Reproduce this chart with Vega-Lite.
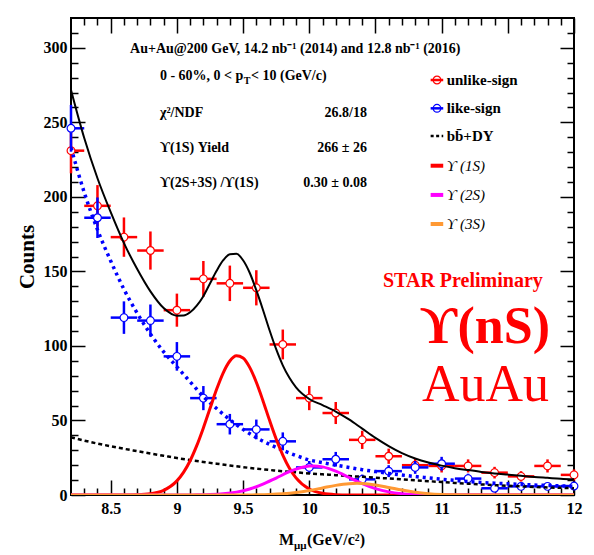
{
  "$schema": "https://vega.github.io/schema/vega-lite/v6.json",
  "width": 503,
  "height": 477,
  "autosize": {"type": "none"},
  "padding": {"left": 71, "top": 18, "right": 20, "bottom": 60},
  "background": "white",
  "config": {
    "view": {"stroke": "black", "strokeWidth": 2},
    "axis": {
      "grid": false, "domain": false, "tickColor": "black", "tickWidth": 1.5,
      "labelFont": "Liberation Serif", "labelFontWeight": "bold", "labelFontSize": 16, "labelColor": "black",
      "titleFont": "Liberation Serif", "titleFontWeight": "bold", "titleFontSize": 21, "titleColor": "black"
    },
    "text": {"font": "Liberation Serif", "color": "black"}
  },
  "resolve": {"axis": {"x": "independent", "y": "independent"}},
  "datasets": {
    "unlike": [
      {"m": 8.2, "n": 231, "err": 15.2, "dm": 0.1},
      {"m": 8.4, "n": 194, "err": 13.9, "dm": 0.1},
      {"m": 8.6, "n": 173, "err": 13.2, "dm": 0.1},
      {"m": 8.8, "n": 164, "err": 12.8, "dm": 0.1},
      {"m": 9.0, "n": 124, "err": 11.1, "dm": 0.1},
      {"m": 9.2, "n": 145, "err": 12.0, "dm": 0.1},
      {"m": 9.4, "n": 142, "err": 11.9, "dm": 0.1},
      {"m": 9.6, "n": 139, "err": 11.8, "dm": 0.1},
      {"m": 9.8, "n": 101, "err": 10.0, "dm": 0.1},
      {"m": 10.0, "n": 65, "err": 8.1, "dm": 0.1},
      {"m": 10.2, "n": 55, "err": 7.4, "dm": 0.1},
      {"m": 10.4, "n": 37, "err": 6.1, "dm": 0.1},
      {"m": 10.6, "n": 26, "err": 5.1, "dm": 0.1},
      {"m": 10.8, "n": 20, "err": 4.5, "dm": 0.1},
      {"m": 11.0, "n": 19.5, "err": 4.4, "dm": 0.1},
      {"m": 11.2, "n": 19.5, "err": 4.4, "dm": 0.1},
      {"m": 11.4, "n": 15, "err": 3.9, "dm": 0.1},
      {"m": 11.6, "n": 12.5, "err": 3.5, "dm": 0.1},
      {"m": 11.8, "n": 19.5, "err": 4.4, "dm": 0.1},
      {"m": 12.0, "n": 13.5, "err": 3.7, "dm": 0.1}
    ],
    "like": [
      {"m": 8.2, "n": 246, "err": 15.7, "dm": 0.1},
      {"m": 8.4, "n": 186, "err": 13.6, "dm": 0.1},
      {"m": 8.6, "n": 119, "err": 10.9, "dm": 0.1},
      {"m": 8.8, "n": 117, "err": 10.8, "dm": 0.1},
      {"m": 9.0, "n": 93, "err": 9.6, "dm": 0.1},
      {"m": 9.2, "n": 65, "err": 8.1, "dm": 0.1},
      {"m": 9.4, "n": 47.5, "err": 6.9, "dm": 0.1},
      {"m": 9.6, "n": 44, "err": 6.6, "dm": 0.1},
      {"m": 9.8, "n": 36, "err": 6.0, "dm": 0.1},
      {"m": 10.0, "n": 18.5, "err": 4.3, "dm": 0.1},
      {"m": 10.2, "n": 24, "err": 4.9, "dm": 0.1},
      {"m": 10.4, "n": 10.5, "err": 3.2, "dm": 0.1},
      {"m": 10.6, "n": 16, "err": 4.0, "dm": 0.1},
      {"m": 10.8, "n": 18.5, "err": 4.3, "dm": 0.1},
      {"m": 11.0, "n": 21, "err": 4.6, "dm": 0.1},
      {"m": 11.2, "n": 11, "err": 3.3, "dm": 0.1},
      {"m": 11.4, "n": 4.5, "err": 2.1, "dm": 0.1},
      {"m": 11.6, "n": 5.8, "err": 2.4, "dm": 0.1},
      {"m": 11.8, "n": 5.8, "err": 2.4, "dm": 0.1},
      {"m": 12.0, "n": 6, "err": 2.4, "dm": 0.1}
    ],
    "comb": [
      {"m": 8.2, "n": 233}, {"m": 8.3, "n": 203}, {"m": 8.4, "n": 178}, {"m": 8.5, "n": 157},
      {"m": 8.6, "n": 138}, {"m": 8.7, "n": 122}, {"m": 8.8, "n": 108}, {"m": 8.9, "n": 96},
      {"m": 9.0, "n": 86}, {"m": 9.1, "n": 76}, {"m": 9.2, "n": 66}, {"m": 9.3, "n": 58},
      {"m": 9.4, "n": 50.5}, {"m": 9.5, "n": 44}, {"m": 9.6, "n": 38.5}, {"m": 9.7, "n": 34},
      {"m": 9.8, "n": 30}, {"m": 9.9, "n": 26.5}, {"m": 10.0, "n": 23.5}, {"m": 10.1, "n": 21.7},
      {"m": 10.2, "n": 20}, {"m": 10.3, "n": 18.5}, {"m": 10.4, "n": 17}, {"m": 10.5, "n": 15.7},
      {"m": 10.6, "n": 14.5}, {"m": 10.7, "n": 13.4}, {"m": 10.8, "n": 12.4}, {"m": 10.9, "n": 11.5},
      {"m": 11.0, "n": 10.6}, {"m": 11.1, "n": 9.8}, {"m": 11.2, "n": 9}, {"m": 11.3, "n": 8.4},
      {"m": 11.4, "n": 7.9}, {"m": 11.5, "n": 7.5}, {"m": 11.6, "n": 7.1}, {"m": 11.7, "n": 6.7},
      {"m": 11.8, "n": 6.4}, {"m": 11.9, "n": 6.1}, {"m": 12.0, "n": 5.9}
    ],
    "bbdy": [
      {"m": 8.2, "n": 38.7}, {"m": 8.3, "n": 36.5}, {"m": 8.4, "n": 34.5}, {"m": 8.5, "n": 32.7},
      {"m": 8.6, "n": 31}, {"m": 8.7, "n": 29.4}, {"m": 8.8, "n": 27.8}, {"m": 8.9, "n": 26.3},
      {"m": 9.0, "n": 24.8}, {"m": 9.1, "n": 23.5}, {"m": 9.2, "n": 22.2}, {"m": 9.3, "n": 21},
      {"m": 9.4, "n": 19.8}, {"m": 9.5, "n": 18.7}, {"m": 9.6, "n": 17.7}, {"m": 9.7, "n": 16.8},
      {"m": 9.8, "n": 15.9}, {"m": 9.9, "n": 15.2}, {"m": 10.0, "n": 14.5}, {"m": 10.1, "n": 13.9},
      {"m": 10.2, "n": 13.3}, {"m": 10.3, "n": 12.7}, {"m": 10.4, "n": 12.2}, {"m": 10.5, "n": 11.6},
      {"m": 10.6, "n": 11.1}, {"m": 10.7, "n": 10.5}, {"m": 10.8, "n": 9.9}, {"m": 10.9, "n": 9.3},
      {"m": 11.0, "n": 8.7}, {"m": 11.1, "n": 8.1}, {"m": 11.2, "n": 7.6}, {"m": 11.3, "n": 7.1},
      {"m": 11.4, "n": 6.6}, {"m": 11.5, "n": 6.2}, {"m": 11.6, "n": 5.8}, {"m": 11.7, "n": 5.4},
      {"m": 11.8, "n": 5.1}, {"m": 11.9, "n": 4.8}, {"m": 12.0, "n": 4.6}
    ],
    "ups1": [
      {"m": 8.2, "n": 0}, {"m": 8.6, "n": 0.03}, {"m": 8.7, "n": 0.18}, {"m": 8.8, "n": 0.84},
      {"m": 8.9, "n": 3.14}, {"m": 9.0, "n": 9.48}, {"m": 9.05, "n": 15.2}, {"m": 9.1, "n": 23.0},
      {"m": 9.15, "n": 33.1}, {"m": 9.2, "n": 45.0}, {"m": 9.25, "n": 58.0}, {"m": 9.3, "n": 70.9},
      {"m": 9.35, "n": 82.0}, {"m": 9.4, "n": 89.9}, {"m": 9.45, "n": 93.4}, {"m": 9.5, "n": 91.9},
      {"m": 9.55, "n": 85.6}, {"m": 9.6, "n": 75.6}, {"m": 9.65, "n": 63.3}, {"m": 9.7, "n": 50.1},
      {"m": 9.75, "n": 37.6}, {"m": 9.8, "n": 26.8}, {"m": 9.85, "n": 18.0}, {"m": 9.9, "n": 11.5},
      {"m": 10.0, "n": 3.98}, {"m": 10.1, "n": 1.11}, {"m": 10.2, "n": 0.25}, {"m": 10.3, "n": 0.04},
      {"m": 10.5, "n": 0}, {"m": 12.0, "n": 0}
    ],
    "ups2": [
      {"m": 8.2, "n": 0}, {"m": 9.05, "n": 0.03}, {"m": 9.15, "n": 0.1}, {"m": 9.25, "n": 0.3},
      {"m": 9.35, "n": 0.82}, {"m": 9.45, "n": 1.94}, {"m": 9.55, "n": 4.02}, {"m": 9.65, "n": 7.24},
      {"m": 9.75, "n": 11.39}, {"m": 9.85, "n": 15.61}, {"m": 9.9, "n": 17.37}, {"m": 9.95, "n": 18.66},
      {"m": 10.0, "n": 19.38}, {"m": 10.03, "n": 19.5}, {"m": 10.1, "n": 18.86}, {"m": 10.2, "n": 15.99},
      {"m": 10.3, "n": 11.83}, {"m": 10.4, "n": 7.63}, {"m": 10.5, "n": 4.29}, {"m": 10.6, "n": 2.1},
      {"m": 10.7, "n": 0.9}, {"m": 10.8, "n": 0.33}, {"m": 10.9, "n": 0.11}, {"m": 11.1, "n": 0},
      {"m": 12.0, "n": 0}
    ],
    "ups3": [
      {"m": 8.2, "n": 0}, {"m": 9.5, "n": 0.03}, {"m": 9.6, "n": 0.11}, {"m": 9.7, "n": 0.31},
      {"m": 9.8, "n": 0.77}, {"m": 9.9, "n": 1.63}, {"m": 10.0, "n": 2.99}, {"m": 10.1, "n": 4.73},
      {"m": 10.2, "n": 6.45}, {"m": 10.3, "n": 7.59}, {"m": 10.36, "n": 7.8}, {"m": 10.4, "n": 7.71},
      {"m": 10.5, "n": 6.75}, {"m": 10.6, "n": 5.09}, {"m": 10.7, "n": 3.32}, {"m": 10.8, "n": 1.86},
      {"m": 10.9, "n": 0.9}, {"m": 11.0, "n": 0.38}, {"m": 11.1, "n": 0.14}, {"m": 11.2, "n": 0.05},
      {"m": 11.4, "n": 0}, {"m": 12.0, "n": 0}
    ],
    "total": [
      {"m": 8.2, "n": 271.7}, {"m": 8.3, "n": 239.5}, {"m": 8.4, "n": 212.5}, {"m": 8.5, "n": 189.7},
      {"m": 8.6, "n": 169.0}, {"m": 8.7, "n": 151.6}, {"m": 8.8, "n": 136.6}, {"m": 8.9, "n": 125.4},
      {"m": 9.0, "n": 120.3}, {"m": 9.05, "n": 120.4}, {"m": 9.1, "n": 122.6}, {"m": 9.15, "n": 127.1},
      {"m": 9.2, "n": 133.4}, {"m": 9.25, "n": 141.9}, {"m": 9.3, "n": 150.4}, {"m": 9.35, "n": 157.5},
      {"m": 9.4, "n": 161.5}, {"m": 9.45, "n": 161.8}, {"m": 9.5, "n": 157.5}, {"m": 9.55, "n": 149.1},
      {"m": 9.6, "n": 137.4}, {"m": 9.65, "n": 124.3}, {"m": 9.7, "n": 110.5}, {"m": 9.75, "n": 97.8},
      {"m": 9.8, "n": 87.0}, {"m": 9.85, "n": 78.6}, {"m": 9.9, "n": 72.2}, {"m": 10.0, "n": 64.4},
      {"m": 10.1, "n": 60.3}, {"m": 10.2, "n": 56.0}, {"m": 10.3, "n": 50.7}, {"m": 10.4, "n": 44.5},
      {"m": 10.5, "n": 38.3}, {"m": 10.6, "n": 32.8}, {"m": 10.7, "n": 28.1}, {"m": 10.8, "n": 24.5},
      {"m": 10.9, "n": 21.8}, {"m": 11.0, "n": 19.7}, {"m": 11.1, "n": 18.0}, {"m": 11.2, "n": 16.7},
      {"m": 11.3, "n": 15.5}, {"m": 11.4, "n": 14.5}, {"m": 11.5, "n": 13.7}, {"m": 11.6, "n": 12.9},
      {"m": 11.7, "n": 12.1}, {"m": 11.8, "n": 11.5}, {"m": 11.9, "n": 10.9}, {"m": 12.0, "n": 10.5}
    ]
  },
  "layer": [
    {
      "data": {"name": "unlike"},
      "mark": {"type": "errorbar", "ticks": false, "color": "#ff0000", "thickness": 2.5},
      "encoding": {
        "x": {"field": "m", "type": "quantitative", "scale": {"domain": [8.2, 12], "nice": false, "zero": false}, "axis": null},
        "y": {"field": "n", "type": "quantitative", "scale": {"domain": [0, 320], "nice": false, "zero": false}, "axis": null},
        "yError": {"field": "err"}
      }
    },
    {
      "data": {"name": "unlike"},
      "mark": {"type": "errorbar", "ticks": false, "color": "#ff0000", "thickness": 2.5, "clip": true},
      "encoding": {
        "x": {"field": "m", "type": "quantitative", "scale": {"domain": [8.2, 12], "nice": false, "zero": false}, "axis": null},
        "y": {"field": "n", "type": "quantitative", "scale": {"domain": [0, 320], "nice": false, "zero": false}, "axis": null},
        "xError": {"field": "dm"}
      }
    },
    {
      "data": {"name": "unlike"},
      "mark": {"type": "point", "shape": "circle", "filled": true, "fill": "white", "stroke": "#ff0000", "strokeWidth": 1.2, "size": 60, "opacity": 1},
      "encoding": {
        "x": {"field": "m", "type": "quantitative", "scale": {"domain": [8.2, 12], "nice": false, "zero": false}, "axis": null},
        "y": {"field": "n", "type": "quantitative", "scale": {"domain": [0, 320], "nice": false, "zero": false}, "axis": null}
      }
    },
    {
      "data": {"name": "like"},
      "mark": {"type": "errorbar", "ticks": false, "color": "#0000ff", "thickness": 2.5},
      "encoding": {
        "x": {"field": "m", "type": "quantitative", "scale": {"domain": [8.2, 12], "nice": false, "zero": false}, "axis": null},
        "y": {"field": "n", "type": "quantitative", "scale": {"domain": [0, 320], "nice": false, "zero": false}, "axis": null},
        "yError": {"field": "err"}
      }
    },
    {
      "data": {"name": "like"},
      "mark": {"type": "errorbar", "ticks": false, "color": "#0000ff", "thickness": 2.5, "clip": true},
      "encoding": {
        "x": {"field": "m", "type": "quantitative", "scale": {"domain": [8.2, 12], "nice": false, "zero": false}, "axis": null},
        "y": {"field": "n", "type": "quantitative", "scale": {"domain": [0, 320], "nice": false, "zero": false}, "axis": null},
        "xError": {"field": "dm"}
      }
    },
    {
      "data": {"name": "like"},
      "mark": {"type": "point", "shape": "circle", "filled": true, "fill": "white", "stroke": "#0000ff", "strokeWidth": 1.2, "size": 60, "opacity": 1},
      "encoding": {
        "x": {"field": "m", "type": "quantitative", "scale": {"domain": [8.2, 12], "nice": false, "zero": false}, "axis": null},
        "y": {"field": "n", "type": "quantitative", "scale": {"domain": [0, 320], "nice": false, "zero": false}, "axis": null}
      }
    },
    {
      "data": {"name": "bbdy"},
      "mark": {"type": "line", "color": "black", "strokeWidth": 2.5, "strokeDash": [4, 3], "interpolate": "monotone", "clip": true},
      "encoding": {
        "x": {"field": "m", "type": "quantitative", "scale": {"domain": [8.2, 12], "nice": false, "zero": false},
              "axis": {"orient": "top", "values": [8.5, 9, 9.5, 10, 10.5, 11, 11.5, 12], "tickSize": -15, "labels": false, "title": null}},
        "y": {"field": "n", "type": "quantitative", "scale": {"domain": [0, 320], "nice": false, "zero": false},
              "axis": {"orient": "right", "values": [0, 50, 100, 150, 200, 250, 300], "tickSize": -14, "labels": false, "title": null}}
      }
    },
    {
      "data": {"name": "comb"},
      "mark": {"type": "line", "color": "#0000ff", "strokeWidth": 3.5, "strokeDash": [3, 4], "interpolate": "monotone", "clip": true},
      "encoding": {
        "x": {"field": "m", "type": "quantitative", "scale": {"domain": [8.2, 12], "nice": false, "zero": false},
              "axis": {"orient": "bottom", "values": [8.3, 8.4, 8.6, 8.7, 8.8, 8.9, 9.1, 9.2, 9.3, 9.4, 9.6, 9.7, 9.8, 9.9, 10.1, 10.2, 10.3, 10.4, 10.6, 10.7, 10.8, 10.9, 11.1, 11.2, 11.3, 11.4, 11.6, 11.7, 11.8, 11.9], "tickSize": -7, "labels": false, "title": null}},
        "y": {"field": "n", "type": "quantitative", "scale": {"domain": [0, 320], "nice": false, "zero": false},
              "axis": {"orient": "left", "values": [10, 20, 30, 40, 60, 70, 80, 90, 110, 120, 130, 140, 160, 170, 180, 190, 210, 220, 230, 240, 260, 270, 280, 290, 310], "tickSize": -7, "labels": false, "title": null}}
      }
    },
    {
      "data": {"name": "total"},
      "mark": {"type": "line", "color": "black", "strokeWidth": 2, "interpolate": "monotone", "clip": true},
      "encoding": {
        "x": {"field": "m", "type": "quantitative", "scale": {"domain": [8.2, 12], "nice": false, "zero": false},
              "axis": {"orient": "bottom", "values": [8.5, 9, 9.5, 10, 10.5, 11, 11.5, 12], "format": "~g", "tickSize": -15, "labelPadding": 20, "labelFlush": false, "title": null}},
        "y": {"field": "n", "type": "quantitative", "scale": {"domain": [0, 320], "nice": false, "zero": false},
              "axis": {"orient": "left", "values": [0, 50, 100, 150, 200, 250, 300], "tickSize": -14, "labelPadding": 18, "labelFlush": false, "title": "Counts", "titlePadding": 6}}
      }
    },
    {
      "data": {"name": "ups1"},
      "mark": {"type": "line", "color": "#ff0000", "strokeWidth": 3, "interpolate": "monotone", "clip": true},
      "encoding": {
        "x": {"field": "m", "type": "quantitative", "scale": {"domain": [8.2, 12], "nice": false, "zero": false},
              "axis": {"orient": "top", "values": [8.3, 8.4, 8.6, 8.7, 8.8, 8.9, 9.1, 9.2, 9.3, 9.4, 9.6, 9.7, 9.8, 9.9, 10.1, 10.2, 10.3, 10.4, 10.6, 10.7, 10.8, 10.9, 11.1, 11.2, 11.3, 11.4, 11.6, 11.7, 11.8, 11.9], "tickSize": -7, "labels": false, "title": null}},
        "y": {"field": "n", "type": "quantitative", "scale": {"domain": [0, 320], "nice": false, "zero": false},
              "axis": {"orient": "right", "values": [10, 20, 30, 40, 60, 70, 80, 90, 110, 120, 130, 140, 160, 170, 180, 190, 210, 220, 230, 240, 260, 270, 280, 290, 310], "tickSize": -7, "labels": false, "title": null}}
      }
    },
    {
      "data": {"name": "ups2"},
      "mark": {"type": "line", "color": "#ff00ff", "strokeWidth": 3, "interpolate": "monotone", "clip": true},
      "encoding": {
        "x": {"field": "m", "type": "quantitative", "scale": {"domain": [8.2, 12], "nice": false, "zero": false}, "axis": null},
        "y": {"field": "n", "type": "quantitative", "scale": {"domain": [0, 320], "nice": false, "zero": false}, "axis": null}
      }
    },
    {
      "data": {"name": "ups3"},
      "mark": {"type": "line", "color": "#ff9933", "strokeWidth": 3, "interpolate": "monotone", "clip": true},
      "encoding": {
        "x": {"field": "m", "type": "quantitative", "scale": {"domain": [8.2, 12], "nice": false, "zero": false}, "axis": null},
        "y": {"field": "n", "type": "quantitative", "scale": {"domain": [0, 320], "nice": false, "zero": false}, "axis": null}
      }
    },
    {
      "data": {"values": [{"t": "Au+Au@200 GeV, 14.2 nb⁻¹ (2014) and 12.8 nb⁻¹ (2016)"}]},
      "mark": {"type": "text", "align": "left", "baseline": "alphabetic", "fontWeight": "bold", "fontSize": 14},
      "encoding": {
        "text": {"field": "t"},
        "x": {"datum": 8.646, "type": "quantitative", "scale": {"domain": [8.2, 12], "nice": false, "zero": false}, "axis": null},
        "y": {"datum": 296.5, "type": "quantitative", "scale": {"domain": [0, 320], "nice": false, "zero": false}, "axis": null}
      }
    },
    {
      "data": {"values": [{"t": "0 - 60%, 0 < p"}]},
      "mark": {"type": "text", "align": "left", "baseline": "alphabetic", "fontWeight": "bold", "fontSize": 14},
      "encoding": {
        "text": {"field": "t"},
        "x": {"datum": 8.872, "type": "quantitative", "scale": {"domain": [8.2, 12], "nice": false, "zero": false}, "axis": null},
        "y": {"datum": 278.4, "type": "quantitative", "scale": {"domain": [0, 320], "nice": false, "zero": false}, "axis": null}
      }
    },
    {
      "data": {"values": [{"t": "T"}]},
      "mark": {"type": "text", "align": "left", "baseline": "alphabetic", "fontWeight": "bold", "fontSize": 10},
      "encoding": {
        "text": {"field": "t"},
        "x": {"datum": 9.505, "type": "quantitative", "scale": {"domain": [8.2, 12], "nice": false, "zero": false}, "axis": null},
        "y": {"datum": 275.5, "type": "quantitative", "scale": {"domain": [0, 320], "nice": false, "zero": false}, "axis": null}
      }
    },
    {
      "data": {"values": [{"t": " < 10 (GeV/c)"}]},
      "mark": {"type": "text", "align": "left", "baseline": "alphabetic", "fontWeight": "bold", "fontSize": 14},
      "encoding": {
        "text": {"field": "t"},
        "x": {"datum": 9.56, "type": "quantitative", "scale": {"domain": [8.2, 12], "nice": false, "zero": false}, "axis": null},
        "y": {"datum": 278.4, "type": "quantitative", "scale": {"domain": [0, 320], "nice": false, "zero": false}, "axis": null}
      }
    },
    {
      "data": {"values": [{"t": "χ²/NDF"}]},
      "mark": {"type": "text", "align": "left", "baseline": "alphabetic", "fontWeight": "bold", "fontSize": 14},
      "encoding": {
        "text": {"field": "t"},
        "x": {"datum": 8.872, "type": "quantitative", "scale": {"domain": [8.2, 12], "nice": false, "zero": false}, "axis": null},
        "y": {"datum": 253.6, "type": "quantitative", "scale": {"domain": [0, 320], "nice": false, "zero": false}, "axis": null}
      }
    },
    {
      "data": {"values": [{"t": "26.8/18"}]},
      "mark": {"type": "text", "align": "right", "baseline": "alphabetic", "fontWeight": "bold", "fontSize": 14},
      "encoding": {
        "text": {"field": "t"},
        "x": {"datum": 10.436, "type": "quantitative", "scale": {"domain": [8.2, 12], "nice": false, "zero": false}, "axis": null},
        "y": {"datum": 253.6, "type": "quantitative", "scale": {"domain": [0, 320], "nice": false, "zero": false}, "axis": null}
      }
    },
    {
      "data": {"values": [{"t": "ϒ(1S) Yield"}]},
      "mark": {"type": "text", "align": "left", "baseline": "alphabetic", "fontWeight": "bold", "fontSize": 14},
      "encoding": {
        "text": {"field": "t"},
        "x": {"datum": 8.872, "type": "quantitative", "scale": {"domain": [8.2, 12], "nice": false, "zero": false}, "axis": null},
        "y": {"datum": 230.1, "type": "quantitative", "scale": {"domain": [0, 320], "nice": false, "zero": false}, "axis": null}
      }
    },
    {
      "data": {"values": [{"t": "266  ± 26"}]},
      "mark": {"type": "text", "align": "right", "baseline": "alphabetic", "fontWeight": "bold", "fontSize": 14},
      "encoding": {
        "text": {"field": "t"},
        "x": {"datum": 10.436, "type": "quantitative", "scale": {"domain": [8.2, 12], "nice": false, "zero": false}, "axis": null},
        "y": {"datum": 230.1, "type": "quantitative", "scale": {"domain": [0, 320], "nice": false, "zero": false}, "axis": null}
      }
    },
    {
      "data": {"values": [{"t": "ϒ(2S+3S) /ϒ(1S)"}]},
      "mark": {"type": "text", "align": "left", "baseline": "alphabetic", "fontWeight": "bold", "fontSize": 14},
      "encoding": {
        "text": {"field": "t"},
        "x": {"datum": 8.872, "type": "quantitative", "scale": {"domain": [8.2, 12], "nice": false, "zero": false}, "axis": null},
        "y": {"datum": 206.6, "type": "quantitative", "scale": {"domain": [0, 320], "nice": false, "zero": false}, "axis": null}
      }
    },
    {
      "data": {"values": [{"t": "0.30  ± 0.08"}]},
      "mark": {"type": "text", "align": "right", "baseline": "alphabetic", "fontWeight": "bold", "fontSize": 14},
      "encoding": {
        "text": {"field": "t"},
        "x": {"datum": 10.436, "type": "quantitative", "scale": {"domain": [8.2, 12], "nice": false, "zero": false}, "axis": null},
        "y": {"datum": 206.6, "type": "quantitative", "scale": {"domain": [0, 320], "nice": false, "zero": false}, "axis": null}
      }
    },
    {
      "data": {"values": [{"t": "unlike-sign"}]},
      "mark": {"type": "rule", "color": "#ff0000", "strokeWidth": 2.5},
      "encoding": {
        "x": {"datum": 10.917, "type": "quantitative", "scale": {"domain": [8.2, 12], "nice": false, "zero": false}, "axis": null},
        "x2": {"datum": 11.012},
        "y": {"datum": 278.4, "type": "quantitative", "scale": {"domain": [0, 320], "nice": false, "zero": false}, "axis": null}
      }
    },
    {
      "data": {"values": [{"t": "unlike-sign"}]},
      "mark": {"type": "point", "shape": "circle", "filled": false, "stroke": "#ff0000", "strokeWidth": 1.2, "size": 60, "opacity": 1},
      "encoding": {
        "x": {"datum": 10.965, "type": "quantitative", "scale": {"domain": [8.2, 12], "nice": false, "zero": false}, "axis": null},
        "y": {"datum": 278.4, "type": "quantitative", "scale": {"domain": [0, 320], "nice": false, "zero": false}, "axis": null}
      }
    },
    {
      "data": {"values": [{"t": "like-sign"}]},
      "mark": {"type": "rule", "color": "#0000ff", "strokeWidth": 2.5},
      "encoding": {
        "x": {"datum": 10.917, "type": "quantitative", "scale": {"domain": [8.2, 12], "nice": false, "zero": false}, "axis": null},
        "x2": {"datum": 11.012},
        "y": {"datum": 259.4, "type": "quantitative", "scale": {"domain": [0, 320], "nice": false, "zero": false}, "axis": null}
      }
    },
    {
      "data": {"values": [{"t": "like-sign"}]},
      "mark": {"type": "point", "shape": "circle", "filled": false, "stroke": "#0000ff", "strokeWidth": 1.2, "size": 60, "opacity": 1},
      "encoding": {
        "x": {"datum": 10.965, "type": "quantitative", "scale": {"domain": [8.2, 12], "nice": false, "zero": false}, "axis": null},
        "y": {"datum": 259.4, "type": "quantitative", "scale": {"domain": [0, 320], "nice": false, "zero": false}, "axis": null}
      }
    },
    {
      "data": {"values": [{"t": "bb+DY"}]},
      "mark": {"type": "rule", "color": "black", "strokeWidth": 2.5, "strokeDash": [3, 2.5]},
      "encoding": {
        "x": {"datum": 10.917, "type": "quantitative", "scale": {"domain": [8.2, 12], "nice": false, "zero": false}, "axis": null},
        "x2": {"datum": 11.012},
        "y": {"datum": 240.8, "type": "quantitative", "scale": {"domain": [0, 320], "nice": false, "zero": false}, "axis": null}
      }
    },
    {
      "data": {"values": [{"t": "1S"}]},
      "mark": {"type": "rule", "color": "#ff0000", "strokeWidth": 4},
      "encoding": {
        "x": {"datum": 10.917, "type": "quantitative", "scale": {"domain": [8.2, 12], "nice": false, "zero": false}, "axis": null},
        "x2": {"datum": 11.012},
        "y": {"datum": 220.9, "type": "quantitative", "scale": {"domain": [0, 320], "nice": false, "zero": false}, "axis": null}
      }
    },
    {
      "data": {"values": [{"t": "2S"}]},
      "mark": {"type": "rule", "color": "#ff00ff", "strokeWidth": 4},
      "encoding": {
        "x": {"datum": 10.917, "type": "quantitative", "scale": {"domain": [8.2, 12], "nice": false, "zero": false}, "axis": null},
        "x2": {"datum": 11.012},
        "y": {"datum": 201.3, "type": "quantitative", "scale": {"domain": [0, 320], "nice": false, "zero": false}, "axis": null}
      }
    },
    {
      "data": {"values": [{"t": "3S"}]},
      "mark": {"type": "rule", "color": "#ff9933", "strokeWidth": 4},
      "encoding": {
        "x": {"datum": 10.917, "type": "quantitative", "scale": {"domain": [8.2, 12], "nice": false, "zero": false}, "axis": null},
        "x2": {"datum": 11.012},
        "y": {"datum": 181.8, "type": "quantitative", "scale": {"domain": [0, 320], "nice": false, "zero": false}, "axis": null}
      }
    },
    {
      "data": {"values": [{"t": "unlike-sign"}]},
      "mark": {"type": "text", "align": "left", "baseline": "middle", "fontWeight": "bold", "fontSize": 15},
      "encoding": {
        "text": {"field": "t"},
        "x": {"datum": 11.038, "type": "quantitative", "scale": {"domain": [8.2, 12], "nice": false, "zero": false}, "axis": null},
        "y": {"datum": 278.4, "type": "quantitative", "scale": {"domain": [0, 320], "nice": false, "zero": false}, "axis": null}
      }
    },
    {
      "data": {"values": [{"t": "like-sign"}]},
      "mark": {"type": "text", "align": "left", "baseline": "middle", "fontWeight": "bold", "fontSize": 15},
      "encoding": {
        "text": {"field": "t"},
        "x": {"datum": 11.038, "type": "quantitative", "scale": {"domain": [8.2, 12], "nice": false, "zero": false}, "axis": null},
        "y": {"datum": 259.4, "type": "quantitative", "scale": {"domain": [0, 320], "nice": false, "zero": false}, "axis": null}
      }
    },
    {
      "data": {"values": [{"t": "bb̄+DY"}]},
      "mark": {"type": "text", "align": "left", "baseline": "middle", "fontWeight": "bold", "fontSize": 15},
      "encoding": {
        "text": {"field": "t"},
        "x": {"datum": 11.038, "type": "quantitative", "scale": {"domain": [8.2, 12], "nice": false, "zero": false}, "axis": null},
        "y": {"datum": 240.8, "type": "quantitative", "scale": {"domain": [0, 320], "nice": false, "zero": false}, "axis": null}
      }
    },
    {
      "data": {"values": [{"t": "ϒ (1S)"}]},
      "mark": {"type": "text", "align": "left", "baseline": "middle", "fontStyle": "italic", "fontSize": 15},
      "encoding": {
        "text": {"field": "t"},
        "x": {"datum": 11.038, "type": "quantitative", "scale": {"domain": [8.2, 12], "nice": false, "zero": false}, "axis": null},
        "y": {"datum": 220.9, "type": "quantitative", "scale": {"domain": [0, 320], "nice": false, "zero": false}, "axis": null}
      }
    },
    {
      "data": {"values": [{"t": "ϒ (2S)"}]},
      "mark": {"type": "text", "align": "left", "baseline": "middle", "fontStyle": "italic", "fontSize": 15},
      "encoding": {
        "text": {"field": "t"},
        "x": {"datum": 11.038, "type": "quantitative", "scale": {"domain": [8.2, 12], "nice": false, "zero": false}, "axis": null},
        "y": {"datum": 201.3, "type": "quantitative", "scale": {"domain": [0, 320], "nice": false, "zero": false}, "axis": null}
      }
    },
    {
      "data": {"values": [{"t": "ϒ (3S)"}]},
      "mark": {"type": "text", "align": "left", "baseline": "middle", "fontStyle": "italic", "fontSize": 15},
      "encoding": {
        "text": {"field": "t"},
        "x": {"datum": 11.038, "type": "quantitative", "scale": {"domain": [8.2, 12], "nice": false, "zero": false}, "axis": null},
        "y": {"datum": 181.8, "type": "quantitative", "scale": {"domain": [0, 320], "nice": false, "zero": false}, "axis": null}
      }
    },
    {
      "data": {"values": [{"t": "STAR Preliminary"}]},
      "mark": {"type": "text", "align": "left", "baseline": "alphabetic", "fontWeight": "bold", "fontSize": 20, "color": "#ff0000"},
      "encoding": {
        "text": {"field": "t"},
        "x": {"datum": 10.557, "type": "quantitative", "scale": {"domain": [8.2, 12], "nice": false, "zero": false}, "axis": null},
        "y": {"datum": 139.5, "type": "quantitative", "scale": {"domain": [0, 320], "nice": false, "zero": false}, "axis": null}
      }
    },
    {
      "data": {"values": [{"t": "ϒ(nS)"}]},
      "mark": {"type": "text", "align": "left", "baseline": "alphabetic", "fontWeight": "bold", "fontSize": 52, "color": "#ff0000"},
      "encoding": {
        "text": {"field": "t"},
        "x": {"datum": 10.836, "type": "quantitative", "scale": {"domain": [8.2, 12], "nice": false, "zero": false}, "axis": null},
        "y": {"datum": 102.0, "type": "quantitative", "scale": {"domain": [0, 320], "nice": false, "zero": false}, "axis": null}
      }
    },
    {
      "data": {"values": [{"t": "AuAu"}]},
      "mark": {"type": "text", "align": "left", "baseline": "alphabetic", "fontSize": 52, "color": "#ff0000"},
      "encoding": {
        "text": {"field": "t"},
        "x": {"datum": 10.851, "type": "quantitative", "scale": {"domain": [8.2, 12], "nice": false, "zero": false}, "axis": null},
        "y": {"datum": 63.2, "type": "quantitative", "scale": {"domain": [0, 320], "nice": false, "zero": false}, "axis": null}
      }
    },
    {
      "data": {"values": [{"t": "M"}]},
      "mark": {"type": "text", "align": "left", "baseline": "alphabetic", "fontWeight": "bold", "fontSize": 16},
      "encoding": {
        "text": {"field": "t"},
        "x": {"datum": 9.771, "type": "quantitative", "scale": {"domain": [8.2, 12], "nice": false, "zero": false}, "axis": null},
        "y": {"datum": -33.5, "type": "quantitative", "scale": {"domain": [0, 320], "nice": false, "zero": false}, "axis": null}
      }
    },
    {
      "data": {"values": [{"t": "μμ"}]},
      "mark": {"type": "text", "align": "left", "baseline": "alphabetic", "fontWeight": "bold", "fontSize": 11},
      "encoding": {
        "text": {"field": "t"},
        "x": {"datum": 9.884, "type": "quantitative", "scale": {"domain": [8.2, 12], "nice": false, "zero": false}, "axis": null},
        "y": {"datum": -36.2, "type": "quantitative", "scale": {"domain": [0, 320], "nice": false, "zero": false}, "axis": null}
      }
    },
    {
      "data": {"values": [{"t": "(GeV/c²)"}]},
      "mark": {"type": "text", "align": "left", "baseline": "alphabetic", "fontWeight": "bold", "fontSize": 16},
      "encoding": {
        "text": {"field": "t"},
        "x": {"datum": 9.982, "type": "quantitative", "scale": {"domain": [8.2, 12], "nice": false, "zero": false}, "axis": null},
        "y": {"datum": -33.5, "type": "quantitative", "scale": {"domain": [0, 320], "nice": false, "zero": false}, "axis": null}
      }
    }
  ]
}
